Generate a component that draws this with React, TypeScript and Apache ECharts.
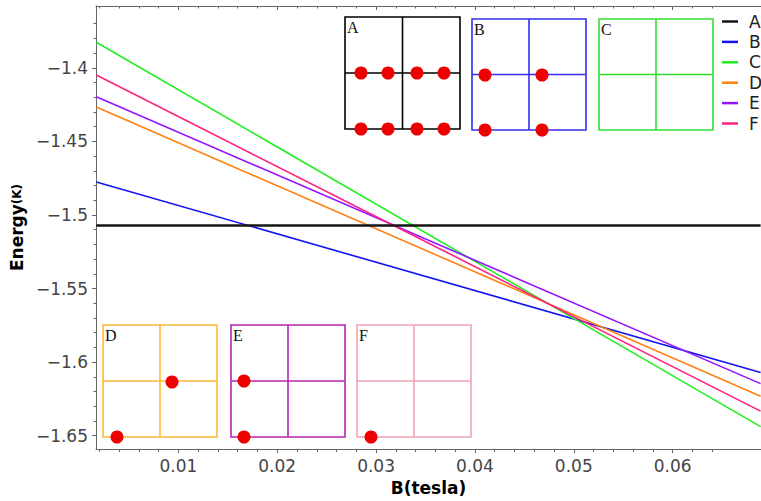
import React, { useEffect, useRef } from "react";
import * as echarts from "echarts";

// Magnetic field (tesla) at the left and right edges of the visible plot
const bField = [0.0017, 0.0689];

// Energy (K) of each configuration at those field values
const energyA = [-1.5071, -1.5071];
const energyB = [-1.4775, -1.6071];
const energyC = [-1.3826, -1.6438];
const energyD = [-1.4266, -1.6231];
const energyE = [-1.4197, -1.6146];
const energyF = [-1.4049, -1.6333];

const seriesNames = ["A", "B", "C", "D", "E", "F"];

// Axis ticks
const xMajorTicks = [0.01, 0.02, 0.03, 0.04, 0.05, 0.06];
const xMinorTicks = [
  0.002, 0.004, 0.006, 0.008, 0.012, 0.014, 0.016, 0.018, 0.022, 0.024, 0.026, 0.028,
  0.032, 0.034, 0.036, 0.038, 0.042, 0.044, 0.046, 0.048, 0.052, 0.054, 0.056, 0.058,
  0.062, 0.064,
];
const yMajorTicks = [-1.4, -1.45, -1.5, -1.55, -1.6, -1.65];
const yMinorTicks = [
  -1.37, -1.38, -1.39, -1.41, -1.42, -1.43, -1.44, -1.46, -1.47, -1.48, -1.49, -1.51,
  -1.52, -1.53, -1.54, -1.56, -1.57, -1.58, -1.59, -1.61, -1.62, -1.63, -1.64,
];

const X_MIN = 0.001667;
const X_MAX = 0.06894;
const Y_MIN = -1.65902;
const Y_MAX = -1.35796;

const lineColors = ["#151515", "#1414f0", "#22ee22", "#ff8012", "#9414ff", "#ff2080"];

// Inset lattice diagrams (decoration)
const insets = [
  { label: "A", x: 345, y: 17, w: 115, h: 112, color: "#000000", dots: [[16, 56], [43, 56], [72, 56], [99, 56], [16, 112], [43, 112], [72, 112], [99, 112]] },
  { label: "B", x: 472, y: 19, w: 114, h: 111, color: "#3030ee", dots: [[13, 56], [70, 56], [13, 111], [70, 111]] },
  { label: "C", x: 599, y: 19, w: 114, h: 111, color: "#33dd33", dots: [] },
  { label: "D", x: 103, y: 325, w: 114, h: 112, color: "#ffb833", dots: [[14, 112], [69, 57]] },
  { label: "E", x: 231, y: 325, w: 114, h: 112, color: "#b424b4", dots: [[13, 56], [13, 112]] },
  { label: "F", x: 357, y: 325, w: 114, h: 112, color: "#f0a4b4", dots: [[14, 112]] },
];

const FONT = "DejaVu Sans";

function buildInsets() {
  const els: any[] = [];
  insets.forEach((ins) => {
    const st = { stroke: ins.color, lineWidth: 1.6, fill: "none" };
    els.push({ type: "rect", shape: { x: ins.x, y: ins.y, width: ins.w, height: ins.h }, style: { ...st }, z: 50 });
    els.push({ type: "line", shape: { x1: ins.x + ins.w / 2, y1: ins.y, x2: ins.x + ins.w / 2, y2: ins.y + ins.h }, style: { ...st }, z: 50 });
    els.push({ type: "line", shape: { x1: ins.x, y1: ins.y + ins.h / 2, x2: ins.x + ins.w, y2: ins.y + ins.h / 2 }, style: { ...st }, z: 50 });
    els.push({
      type: "text",
      x: ins.x + 2,
      y: ins.y + 2,
      style: { text: ins.label, fontFamily: "Liberation Serif", fontSize: 16, fill: "#111", textVerticalAlign: "top" },
      z: 51,
    });
    ins.dots.forEach((d) => {
      els.push({ type: "circle", shape: { cx: ins.x + d[0], cy: ins.y + d[1], r: 6.5 }, style: { fill: "#ee0000" }, z: 52 });
    });
  });
  return els;
}

export default function App() {
  const ref = useRef<HTMLDivElement>(null);
  useEffect(() => {
    if (!ref.current) return;
    const chart = echarts.init(ref.current, null, { renderer: "svg" });
    const energies = [energyA, energyB, energyC, energyD, energyE, energyF];
    const axisLineStyle = { color: "#666666", width: 1 };
    const xCommon = { type: "value", min: X_MIN, max: X_MAX, splitLine: { show: false } };
    const yCommon = { type: "value", min: Y_MIN, max: Y_MAX, splitLine: { show: false } };
    chart.setOption({
      animation: false,
      backgroundColor: "#ffffff",
      grid: { left: 91, top: 6, width: 670, height: 444, containLabel: false },
      legend: {
        orient: "vertical",
        left: 722,
        top: 13,
        padding: 0,
        itemWidth: 16,
        itemHeight: 2.5,
        itemGap: 3.4,
        icon: "rect",
        data: seriesNames,
        textStyle: { fontFamily: FONT, fontSize: 17, lineHeight: 17, color: "#222", padding: [0, 0, 0, 6] },
      },
      xAxis: [
        {
          ...xCommon,
          position: "bottom",
          axisLine: { show: true, lineStyle: axisLineStyle },
          axisTick: { show: true, inside: false, length: 4, customValues: xMajorTicks, lineStyle: axisLineStyle },
          axisLabel: {
            customValues: xMajorTicks,
            formatter: (v: number) => v.toFixed(2),
            fontFamily: FONT,
            fontSize: 17,
            color: "#444",
            margin: 8,
          },
          name: "B(tesla)",
          nameLocation: "middle",
          nameGap: 30,
          nameTextStyle: { fontFamily: FONT, fontSize: 17, fontWeight: "bold", color: "#000" },
        },
        {
          ...xCommon,
          position: "bottom",
          axisLine: { show: false },
          axisTick: { show: true, inside: false, length: 3, customValues: xMinorTicks, lineStyle: axisLineStyle },
          axisLabel: { show: false },
        },
        {
          ...xCommon,
          position: "top",
          axisLine: { show: true, lineStyle: axisLineStyle },
          axisTick: { show: true, inside: true, length: 4, customValues: xMajorTicks, lineStyle: axisLineStyle },
          axisLabel: { show: false },
        },
        {
          ...xCommon,
          position: "top",
          axisLine: { show: false },
          axisTick: { show: true, inside: true, length: 2.5, customValues: xMinorTicks, lineStyle: axisLineStyle },
          axisLabel: { show: false },
        },
      ],
      yAxis: [
        {
          ...yCommon,
          position: "left",
          axisLine: { show: true, lineStyle: axisLineStyle },
          axisTick: { show: true, inside: false, length: 4, customValues: yMajorTicks, lineStyle: axisLineStyle },
          axisLabel: {
            customValues: yMajorTicks,
            formatter: (v: number) => (v < 0 ? "\u2212" : "") + String(Math.abs(Math.round(v * 1000) / 1000)),
            fontFamily: FONT,
            fontSize: 17,
            color: "#444",
            margin: 8,
          },
          name: "{a|Energy}{b|(K)}",
          nameLocation: "middle",
          nameGap: 62,
          nameTextStyle: {
            rich: {
              a: { fontFamily: FONT, fontSize: 17, fontWeight: "bold", color: "#000" },
              b: { fontFamily: FONT, fontSize: 12, fontWeight: "bold", color: "#000" },
            },
          },
        },
        {
          ...yCommon,
          position: "left",
          axisLine: { show: false },
          axisTick: { show: true, inside: false, length: 2.5, customValues: yMinorTicks, lineStyle: axisLineStyle },
          axisLabel: { show: false },
        },
      ],
      series: seriesNames.map((name, i) => ({
        name,
        type: "line",
        xAxisIndex: 0,
        yAxisIndex: 0,
        showSymbol: false,
        symbol: "none",
        color: lineColors[i],
        lineStyle: { color: lineColors[i], width: i === 0 ? 2.6 : 1.6 },
        data: bField.map((b, k) => [b, energies[i][k]]),
        z: i === 0 ? 3 : 2,
      })),
      graphic: buildInsets(),
    });
    return () => chart.dispose();
  }, []);
  return (
    <div style={{ position: "fixed", left: 0, top: 0, width: 761, height: 501, overflow: "hidden", background: "#fff" }}>
      <div ref={ref} style={{ width: 761, height: 501 }} />
    </div>
  );
}
